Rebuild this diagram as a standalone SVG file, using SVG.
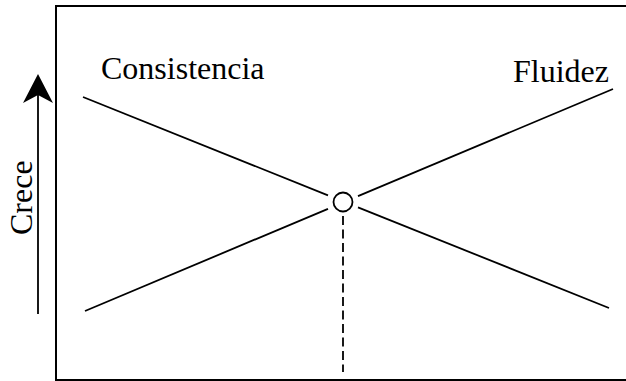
<svg xmlns="http://www.w3.org/2000/svg" width="626" height="381" viewBox="0 0 626 381">
<style>
.ln{stroke:#000;stroke-width:1.8;fill:none}
.t{font-family:"Liberation Serif","Times New Roman",serif;font-size:32px;fill:#000}
</style>
<rect width="626" height="381" fill="#fff"/>
<g id="frame"><rect x="56" y="6" width="580" height="374" fill="none" stroke="#000" stroke-width="2"/></g>
<g id="connectors">
<line class="ln" x1="83" y1="97" x2="328" y2="195.3"/>
<line class="ln" x1="358" y1="207.3" x2="609" y2="308"/>
<line class="ln" x1="85" y1="311" x2="328" y2="208.8"/>
<line class="ln" x1="358" y1="196.2" x2="613" y2="89"/>
<line class="ln" x1="343" y1="216" x2="343" y2="372" stroke-dasharray="9 4.5"/>
<line class="ln" x1="38" y1="314" x2="38" y2="92"/>
<polygon points="38,74 53,103 38,95 23,103" fill="#000"/>
</g>
<g id="node-point"><circle cx="343" cy="202" r="9.5" fill="#fff" stroke="#000" stroke-width="1.8"/></g>
<g id="label-consistencia"><text class="t" x="101" y="79">Consistencia</text></g>
<g id="label-fluidez"><text class="t" x="513" y="82">Fluidez</text></g>
<g id="label-crece"><text class="t" transform="translate(32,235) rotate(-90)">Crece</text></g>
</svg>
